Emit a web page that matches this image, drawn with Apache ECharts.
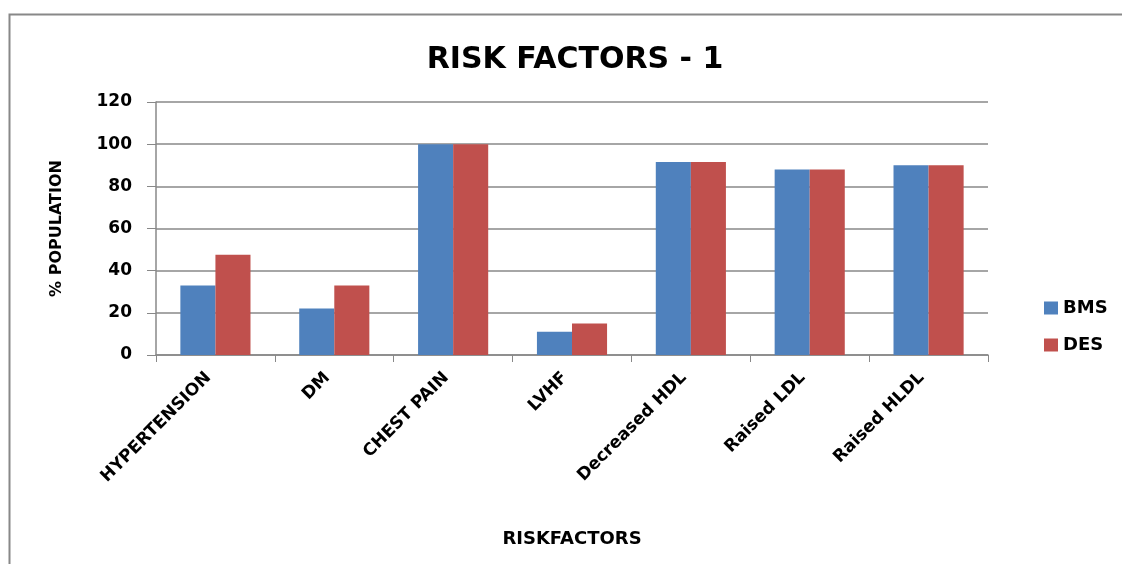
<!DOCTYPE html>
<html>
<head>
<meta charset="utf-8">
<script src="https://cdn.jsdelivr.net/npm/echarts@6/dist/echarts.min.js"></script>
<style>html,body{margin:0;padding:0;background:#fff;}#c{width:1122px;height:564px;}</style>
</head>
<body>
<div id="c"></div>
<script>
const categories = ['HYPERTENSION', 'DM', 'CHEST PAIN', 'LVHF', 'Decreased HDL', 'Raised LDL', 'Raised HLDL'];
const bmsValues = [33, 22, 100, 11, 91.5, 88, 90];
const desValues = [47.5, 33, 100, 15, 91.5, 88, 90];
const seriesNames = ['BMS', 'DES'];

const chart = echarts.init(document.getElementById('c'));
const font = '"DejaVu Sans", "Open Sans", sans-serif';
chart.setOption({
  backgroundColor: '#fff',
  animation: false,
  graphic: [{
    type: 'rect', left: 7, top: 12,
    shape: { width: 1300, height: 700 },
    style: { fill: 'none', stroke: '#888', lineWidth: 2 }
  }],
  title: {
    text: 'RISK FACTORS - 1', left: 570, textAlign: 'center', top: 40,
    textStyle: { fontFamily: font, fontWeight: 'bold', fontSize: 30, color: '#000' }
  },
  legend: {
    orient: 'vertical', left: 1039, top: 294, itemWidth: 14, itemHeight: 13, itemGap: 19,
    icon: 'rect',
    textStyle: { fontFamily: font, fontWeight: 'bold', fontSize: 18, color: '#000' },
    data: seriesNames
  },
  grid: { left: 156, right: 134, top: 102, bottom: 209 },
  xAxis: {
    type: 'category', data: categories,
    name: 'RISKFACTORS', nameLocation: 'middle', nameGap: 175,
    nameTextStyle: { fontFamily: font, fontWeight: 'bold', fontSize: 18, color: '#000' },
    axisLine: { lineStyle: { color: '#888', width: 1.5 } },
    axisTick: { show: true, length: 7, lineStyle: { color: '#888' } },
    axisLabel: { rotate: 45, interval: 0, margin: 13, padding: [0, 10, 0, 0], fontFamily: font, fontWeight: 'bold', fontSize: 17, color: '#000' }
  },
  yAxis: {
    type: 'value', min: 0, max: 120, interval: 20,
    name: '% POPULATION', nameLocation: 'middle', nameGap: 91, nameRotate: 90,
    nameTextStyle: { fontFamily: font, fontWeight: 'bold', fontSize: 16, color: '#000' },
    axisLine: { show: true, lineStyle: { color: '#888', width: 1.5 } },
    axisTick: { show: true, length: 9, lineStyle: { color: '#888' } },
    splitLine: { lineStyle: { color: '#888', width: 1.5 } },
    axisLabel: { margin: 24, fontFamily: font, fontWeight: 'bold', fontSize: 17, color: '#000' }
  },
  series: [
    { name: seriesNames[0], type: 'bar', data: bmsValues, barGap: '0%', barCategoryGap: '41%', itemStyle: { color: '#4F81BD' } },
    { name: seriesNames[1], type: 'bar', data: desValues, barGap: '0%', barCategoryGap: '41%', itemStyle: { color: '#C0504D' } }
  ]
});
</script>
</body>
</html>
